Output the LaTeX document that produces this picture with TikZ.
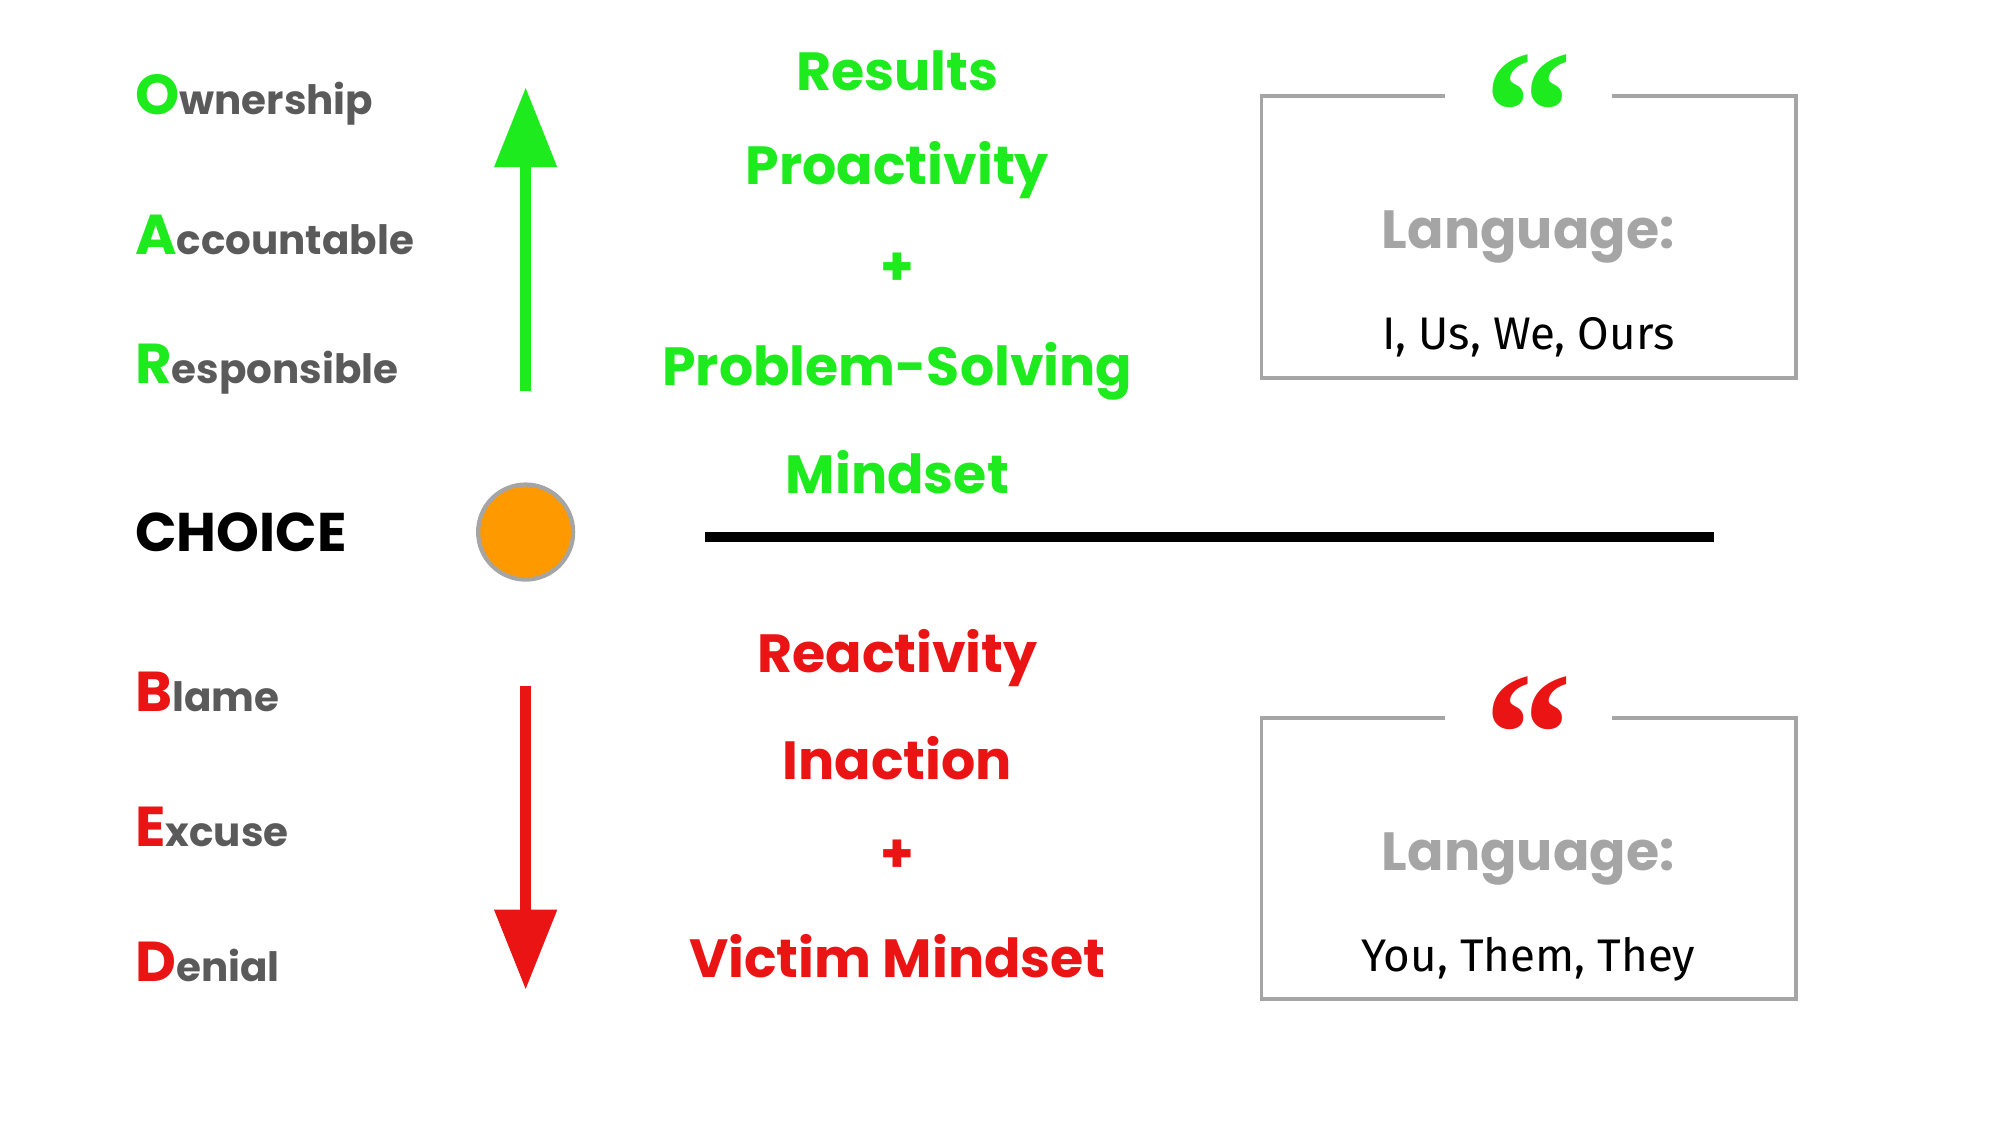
\documentclass[tikz,border=0pt]{standalone}
\usepackage{fontspec}
\setmainfont{Poppins}
\newfontfamily\handfont{Fira Sans}
\newfontfamily\quotefont{Liberation Serif}
\usetikzlibrary{arrows.meta}
\definecolor{grn}{RGB}{30,235,30}
\definecolor{rd}{RGB}{235,20,20}
\definecolor{gry}{RGB}{90,90,90}
\definecolor{lgry}{RGB}{165,165,165}
\definecolor{orng}{RGB}{255,153,0}
\tikzset{
  lbl/.style={anchor=west,inner sep=0pt,font=\bfseries\fontsize{11.5}{13}\selectfont,text=gry},
  mid/.style={inner sep=0pt,font=\bfseries\fontsize{15.3}{17}\selectfont},
  boxline/.style={draw=lgry,line width=1.1pt},
  lang/.style={inner sep=0pt,text=lgry,font=\bfseries\fontsize{15.3}{17}\selectfont},
  words/.style={inner sep=0pt,font=\handfont\fontsize{13}{15}\selectfont},
  quote/.style={inner sep=0pt,font=\quotefont\bfseries\fontsize{50}{50}\selectfont}
}
\newcommand{\BigLetter}[2]{{\color{#1}\fontsize{16}{16}\selectfont #2}}
\begin{document}
\begin{tikzpicture}[x=0.012821cm,y=-0.012821cm]
\useasboundingbox (0,0) rectangle (1560,877);
% left labels
\node[lbl] (o) at (105,78) {\BigLetter{grn}{O}wnership};
\node[lbl] (a) at (105,183) {\BigLetter{grn}{A}ccountable};
\node[lbl] (r) at (105,288) {\BigLetter{grn}{R}esponsible};
\node[lbl,text=black,font=\bfseries\fontsize{15.5}{17}\selectfont] (c) at (105,415) {CHOICE};
\node[lbl] (b) at (105,540) {\BigLetter{rd}{B}lame};
\node[lbl] (e) at (105,645) {\BigLetter{rd}{E}xcuse};
\node[lbl] (d) at (105,750) {\BigLetter{rd}{D}enial};
% arrows
\coordinate (gs) at (410,305); \coordinate (ge) at (410,68);
\draw[grn,line width=3.2pt,-{Triangle[length=0.8cm,width=0.6cm]}] (gs) -- (ge);
\coordinate (rs) at (410,535); \coordinate (re) at (410,772);
\draw[rd,line width=3.2pt,-{Triangle[length=0.8cm,width=0.6cm]}] (rs) -- (re);
% circle
\node[circle,fill=orng,draw=lgry,line width=1.2pt,minimum size=0.95cm,inner sep=0pt] (dot) at (410,415) {};
% line
\coordinate (l1) at (550,419); \coordinate (l2) at (1337,419);
\draw[line width=2.9pt] (l1) -- (l2);
% middle
\node[mid,text=grn] (m1) at (700,55) {Results};
\node[mid,text=grn] (m2) at (700,133) {Proactivity};
\node[mid,text=grn] (m3) at (700,210) {+};
\node[mid,text=grn] (m4) at (700,290) {Problem-Solving};
\node[mid,text=grn] (m5) at (700,368) {Mindset};
\node[mid,text=rd] (n1) at (700,513) {Reactivity};
\node[mid,text=rd] (n2) at (700,591) {Inaction};
\node[mid,text=rd] (n3) at (700,668) {+};
\node[mid,text=rd] (n4) at (700,746) {Victim Mindset};
% boxes
\draw[boxline] (1127,75) -- (984,75) -- (984,295) -- (1401,295) -- (1401,75) -- (1257,75);
\draw[boxline] (1127,560) -- (984,560) -- (984,779) -- (1401,779) -- (1401,560) -- (1257,560);
\node[quote,text=grn] (q1) at (1192,88) {“};
\node[quote,text=rd] (q2) at (1192,573) {“};
\node[lang] (t1) at (1192,185) {Language:};
\node[words] (w1) at (1192,263) {I, Us, We, Ours};
\node[lang] (t2) at (1192,670) {Language:};
\node[words] (w2) at (1192,748) {You, Them, They};
\end{tikzpicture}
\end{document}
